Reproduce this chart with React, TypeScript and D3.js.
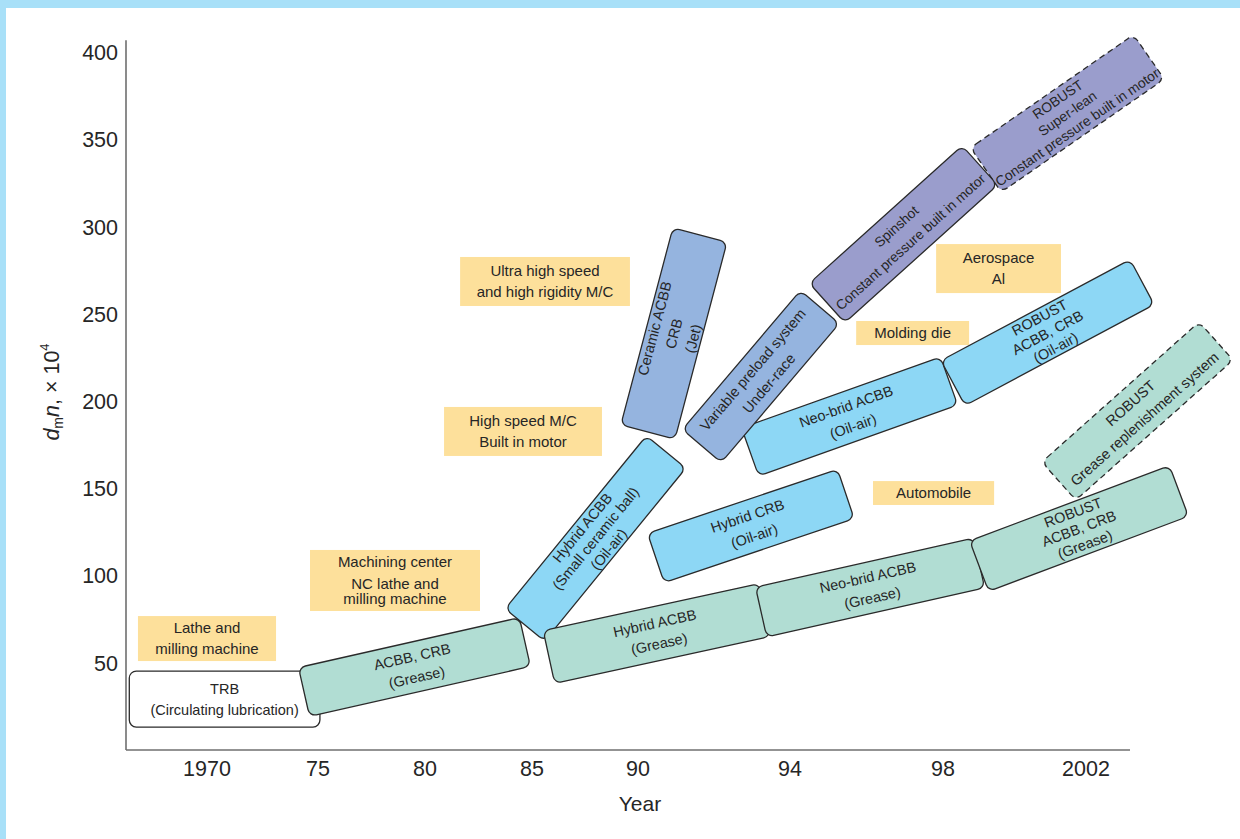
import React from "react";
import * as d3 from "d3";

// ---------- axis data ----------
const yearTicks = [1970, 1975, 1980, 1985, 1990, 1994, 1998, 2002];
const yearTickLabels = ["1970", "75", "80", "85", "90", "94", "98", "2002"];
const speedTicks = [50, 100, 150, 200, 250, 300, 350, 400];

// ---------- technology bands (start year/value -> end year/value) ----------
const techLines: string[][] = [
  ["TRB", "(Circulating lubrication)"],
  ["Hybrid ACBB", "(Small ceramic ball)", "(Oil-air)"],
  ["ACBB, CRB", "(Grease)"],
  ["Hybrid ACBB", "(Grease)"],
  ["Neo-brid ACBB", "(Grease)"],
  ["ROBUST", "ACBB, CRB", "(Grease)"],
  ["ROBUST", "Grease replenishment system"],
  ["Hybrid CRB", "(Oil-air)"],
  ["Neo-brid ACBB", "(Oil-air)"],
  ["ROBUST", "ACBB, CRB", "(Oil-air)"],
  ["Ceramic ACBB", "CRB", "(Jet)"],
  ["Variable preload system", "Under-race"],
  ["ROBUST", "Super-lean", "Constant pressure built in motor"],
  ["Spinshot", "Constant pressure built in motor"],
];
const techStartYear = [1966.5, 1984.67, 1974.37, 1985.8, 1993.24, 1999.01, 2001.24, 1990.47, 1992.95, 1998.28, 1990.26, 1991.68, 1999.2, 1994.97];
const techStartValue = [29.2, 71.7, 33.3, 53.3, 79.1, 105.5, 154.2, 110.1, 170.9, 210.4, 182.3, 174.3, 332.6, 256.3];
const techEndYear = [1975.09, 1990.74, 1984.67, 1993.34, 1999.01, 2004.6, 2005.64, 1995.46, 1998.17, 2003.57, 1991.63, 1994.78, 2003.76, 1999.03];
const techEndValue = [29.2, 170.9, 61.9, 80.3, 107.2, 148.5, 234.5, 146.8, 211.6, 268.3, 295.3, 254.0, 397.4, 335.2];
const techKind = ["trb", "oilair", "grease", "grease", "grease", "grease", "grease", "oilair", "oilair", "oilair", "jet", "jet", "motor", "motor"];
const techPlanned = [false, false, false, false, false, false, true, false, false, false, false, false, true, false];

// ---------- application labels ----------
const appLines: string[][] = [
  ["Lathe and", "milling machine"],
  ["Machining center", "NC lathe and", "milling machine"],
  ["Ultra high speed", "and high rigidity M/C"],
  ["High speed M/C", "Built in motor"],
  ["Aerospace", "Al"],
  ["Molding die"],
  ["Automobile"],
];
const appYear0 = [1966.89, 1974.64, 1981.64, 1980.89, 1997.82, 1995.73, 1996.17];
const appYear1 = [1973.11, 1982.57, 1989.62, 1988.3, 2001.3, 1998.73, 1999.43];
const appTop = [76.8, 114.7, 282.7, 196.7, 290.1, 246.0, 154.2];
const appBottom = [51.0, 79.7, 254.6, 168.6, 262.0, 232.2, 140.5];

// ---------- styles ----------
const FONT = "'Liberation Sans', Arial, Helvetica, sans-serif";
const fillByKind: Record<string, string> = {
  trb: "#ffffff",
  grease: "#b1ddd3",
  oilair: "#8dd7f5",
  jet: "#95b4df",
  motor: "#9a9dcc",
};
const thickByIndex = [56, 51, 50, 54, 51, 54, 51, 52, 51, 51, 56, 51, 54, 53];

export default function App() {
  const W = 1240;
  const H = 839;
  const x = d3
    .scaleLinear()
    .domain(yearTicks)
    .range([207, 318, 425, 532, 638, 790, 943, 1086]);
  const y = d3.scaleLinear().domain([0, 400]).range([750, 52.4]);
  const axisLeft = 126;
  const axisBottom = y(0);
  const axisRight = 1130;
  const axisTop = y(407);

  const textColor = "#262626";

  const techs = techLines.map((lines, i) => {
    const x1 = x(techStartYear[i]);
    const y1 = y(techStartValue[i]);
    const x2 = x(techEndYear[i]);
    const y2 = y(techEndValue[i]);
    const cx = (x1 + x2) / 2;
    const cy = (y1 + y2) / 2;
    const len = Math.hypot(x2 - x1, y2 - y1);
    const ang = (Math.atan2(y2 - y1, x2 - x1) * 180) / Math.PI;
    const t = thickByIndex[i];
    const n = lines.length;
    const sp = n === 2 ? 21 : t >= 56 ? 20 : 17;
    const fs = techKind[i] === "motor" ? 13.8 : 14.5;
    return { lines, cx, cy, len, ang, t, sp, fs, i };
  });

  return (
    <svg
      width={W}
      height={H}
      style={{ position: "absolute", left: 0, top: 0, background: "#fff" }}
      fontFamily={FONT}
    >
      <rect x={0} y={0} width={W} height={H} fill="#ffffff" />
      {/* frame */}
      <rect x={0} y={0} width={W} height={8} fill="#a8e0f8" />
      <rect x={0} y={0} width={6} height={H} fill="#a8e0f8" />

      {/* axes */}
      <line x1={axisLeft} y1={axisTop} x2={axisLeft} y2={axisBottom} stroke="#6f6f6f" strokeWidth={1.6} />
      <line x1={axisLeft} y1={axisBottom} x2={axisRight} y2={axisBottom} stroke="#6f6f6f" strokeWidth={1.6} />

      {speedTicks.map((v) => (
        <text key={v} x={118} y={y(v)} dy="0.36em" textAnchor="end" fontSize={21.5} fill={textColor}>
          {v}
        </text>
      ))}
      {yearTicks.map((yr, i) => (
        <text key={yr} x={x(yr)} y={776} textAnchor="middle" fontSize={21.5} fill={textColor}>
          {yearTickLabels[i]}
        </text>
      ))}
      <text x={640} y={811} textAnchor="middle" fontSize={21} fill={textColor}>
        Year
      </text>
      <g transform={`translate(59,392) rotate(-90)`}>
        <text textAnchor="middle" fontSize={21.5} fill={textColor}>
          <tspan fontStyle="italic">d</tspan>
          <tspan fontSize={14} dy={4}>m</tspan>
          <tspan fontStyle="italic" dy={-4}>n</tspan>
          <tspan>, × 10</tspan>
          <tspan fontSize={13} dy={-10}>4</tspan>
        </text>
      </g>

      {/* application labels */}
      {appLines.map((lines, i) => {
        const x0 = x(appYear0[i]);
        const x1 = x(appYear1[i]);
        const yt = y(appTop[i]);
        const yb = y(appBottom[i]);
        const cx = (x0 + x1) / 2;
        const cy = (yt + yb) / 2;
        const n = lines.length;
        const offsets = n === 3 ? [-18.5, 3.5, 18.5] : lines.map((_, k) => (k - (n - 1) / 2) * 21);
        return (
          <g key={"app" + i}>
            <rect x={x0} y={yt} width={x1 - x0} height={yb - yt} fill="#fde09b" />
            {lines.map((s, k) => (
              <text
                key={k}
                x={cx}
                y={cy + offsets[k]}
                dy="0.35em"
                textAnchor="middle"
                fontSize={15}
                fill={textColor}
              >
                {s}
              </text>
            ))}
          </g>
        );
      })}

      {/* technology bands */}
      {techs.map((b) => (
        <g key={"tech" + b.i} transform={`translate(${b.cx},${b.cy}) rotate(${b.ang})`}>
          <rect
            x={-b.len / 2}
            y={-b.t / 2}
            width={b.len}
            height={b.t}
            rx={7}
            ry={7}
            fill={fillByKind[techKind[b.i]]}
            stroke="#2a2a2a"
            strokeWidth={1.3}
            strokeDasharray={techPlanned[b.i] ? "6 4" : undefined}
          />
          {b.lines.map((s, k) => (
            <text
              key={k}
              x={0}
              y={(k - (b.lines.length - 1) / 2) * b.sp}
              dy="0.35em"
              textAnchor="middle"
              fontSize={b.fs}
              fill={textColor}
            >
              {s}
            </text>
          ))}
        </g>
      ))}
    </svg>
  );
}
